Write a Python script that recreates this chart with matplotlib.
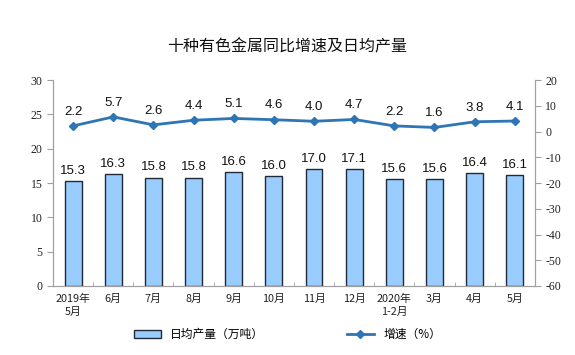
import matplotlib.pyplot as plt
import numpy as np

plt.rcParams['font.family'] = ['Noto Sans CJK SC', 'DejaVu Sans']
plt.rcParams['axes.unicode_minus'] = False

months = ['2019年\n5月', '6月', '7月', '8月', '9月', '10月', '11月', '12月',
          '2020年\n1-2月', '3月', '4月', '5月']
output = [15.3, 16.3, 15.8, 15.8, 16.6, 16.0, 17.0, 17.1, 15.6, 15.6, 16.4, 16.1]
growth = [2.2, 5.7, 2.6, 4.4, 5.1, 4.6, 4.0, 4.7, 2.2, 1.6, 3.8, 4.1]

fig = plt.figure(figsize=(5.75, 3.55), dpi=100)
ax = fig.add_axes([0.0922, 0.1944, 0.838, 0.580])
ax2 = ax.twinx()

x = np.arange(len(months))
bars = ax.bar(x, output, width=0.42, color='#99ccff', edgecolor='#1f2a36', linewidth=1.0,
              label='日均产量（万吨）', zorder=2)
for xi, v in zip(x, output):
    ax.text(xi, v + 0.6, f'{v:.1f}', ha='center', va='bottom', fontsize=9.5,
            family='Liberation Sans', color='#111111')

line, = ax2.plot(x, growth, color='#2e75b6', linewidth=2, marker='D', markersize=4.5,
                 label='增速（%）', zorder=3)
for xi, v in zip(x, growth):
    ax2.text(xi, v + 3.2, f'{v:.1f}', ha='center', va='bottom', fontsize=9.5,
             family='Liberation Sans', color='#111111')

ax.set_xlim(-0.5, len(months) - 0.5)
ax.set_ylim(0, 30)
ax.set_yticks(range(0, 31, 5))
ax2.set_ylim(-60, 20)
ax2.set_yticks(range(-60, 21, 10))

for a in (ax, ax2):
    for s in a.spines.values():
        s.set_color('#a0a0a0')
    a.spines['top'].set_visible(False)
    a.tick_params(axis='y', color='#a0a0a0', length=4, labelsize=8.5,
                  labelfontfamily='Liberation Serif', labelcolor='#222222')

ax.set_xticks(x)
ax.set_xticklabels(months, fontsize=7.8, color='#222222', linespacing=1.3)
ax.tick_params(axis='x', length=0, pad=6)
ax.set_xticks(np.arange(-0.5, len(months), 1), minor=True)
ax.tick_params(axis='x', which='minor', direction='in', length=3, color='#a0a0a0')

fig.text(0.5, 0.868, '十种有色金属同比增速及日均产量', ha='center', va='center',
         fontsize=11.5, fontweight='medium', color='#111111')

fig.legend([bars, line], ['日均产量（万吨）', '增速（%）'], loc='center',
           bbox_to_anchor=(0.50, 0.057), ncol=2, frameon=False, fontsize=8.5,
           columnspacing=7.0, handlelength=2.3)

fig.savefig('out.png', dpi=100)
